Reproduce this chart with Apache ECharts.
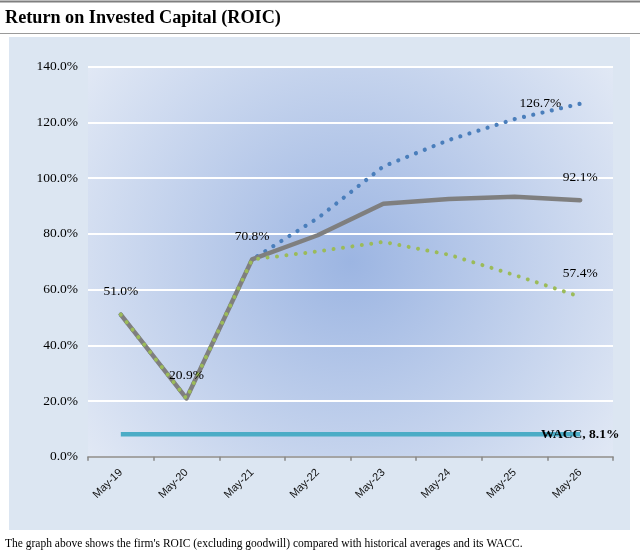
<!DOCTYPE html>
<html>
<head>
<meta charset="utf-8">
<script src="https://cdn.jsdelivr.net/npm/echarts@6/dist/echarts.min.js"></script>
<style>
html,body{margin:0;padding:0;background:#fff;}
#c{width:640px;height:554px;}
</style>
</head>
<body>
<div id="c"></div>
<script>
var categories = ['May-19','May-20','May-21','May-22','May-23','May-24','May-25','May-26'];
var roic = [51.0, 20.9, 70.8, 79.5, 90.8, 92.5, 93.3, 92.1];
var roicHighAvg = [51.0, 20.9, 70.8, 85.6, 104.2, 113.7, 121.2, 126.7];
var roicLowAvg = [51.0, 20.9, 70.8, 73.7, 77.1, 72.5, 65.2, 57.4];
var wacc = [8.1, 8.1, 8.1, 8.1, 8.1, 8.1, 8.1, 8.1];
var yTicks = [0, 20, 40, 60, 80, 100, 120, 140];
var titleText = 'Return on Invested Capital (ROIC)';
var captionText = "The graph above shows the firm's ROIC (excluding goodwill) compared with historical averages and its WACC.";

var serif = '"Liberation Serif", "Times New Roman", serif';
var labelStyle = {fontFamily: serif, fontSize: 13.5, color: '#000'};

function withLabels(values, idxs, labelCfg) {
  return values.map(function (v, i) {
    if (idxs.indexOf(i) >= 0) {
      return {value: v, label: Object.assign({show: true, formatter: function (p) { return p.value.toFixed(1) + '%'; }}, labelStyle, labelCfg)};
    }
    return v;
  });
}

var last = categories.length - 1;
var chart = echarts.init(document.getElementById('c'), null, {renderer: 'canvas'});
chart.setOption({
  animation: false,
  backgroundColor: '#ffffff',
  title: {
    text: titleText, left: 5, top: 9, padding: 0,
    textStyle: {fontFamily: serif, fontWeight: 'bold', fontSize: 18.2, color: '#000'}
  },
  graphic: [
    {type: 'rect', z: -10, shape: {x: 9, y: 37, width: 621, height: 493}, style: {fill: '#dce6f2'}},
    {type: 'line', z: 1, shape: {x1: 0, y1: 1.5, x2: 640, y2: 1.5}, style: {stroke: '#7f7f7f', lineWidth: 2}},
    {type: 'line', z: 1, shape: {x1: 0, y1: 33.5, x2: 640, y2: 33.5}, style: {stroke: '#9a9a9a', lineWidth: 1}},
    {type: 'text', z: 1, left: 5, top: 538, style: {text: captionText, font: '11.5px ' + serif, fill: '#000'}}
  ],
  grid: {
    left: 88, right: 27, top: 66.7, bottom: 97.3,
    show: true, borderWidth: 0,
    backgroundColor: {
      type: 'radial', x: 0.5, y: 0.5, r: 0.85,
      colorStops: [{offset: 0, color: '#9cb5e2'}, {offset: 1, color: '#e2e9f5'}]
    }
  },
  xAxis: {
    type: 'category', data: categories, boundaryGap: true,
    axisLine: {lineStyle: {color: '#868686', width: 1.5}},
    axisTick: {show: true, length: 4, lineStyle: {color: '#868686', width: 1.5}},
    axisLabel: {rotate: 45, margin: 14, fontFamily: '"Liberation Sans", Arial, sans-serif', fontSize: 11, color: '#111', interval: 0}
  },
  yAxis: {
    type: 'value', min: yTicks[0], max: yTicks[yTicks.length - 1], interval: 20,
    axisLine: {show: false}, axisTick: {show: false},
    splitLine: {lineStyle: {color: '#ffffff', width: 2}},
    axisLabel: {margin: 10, fontFamily: serif, fontSize: 13.5, color: '#000',
      formatter: function (v) { return v.toFixed(1) + '%'; }}
  },
  series: [
    {
      name: 'High', type: 'line', data: withLabels(roicHighAvg, [last], {position: 'left', distance: 19}),
      showSymbol: true, symbol: 'circle', symbolSize: 0, itemStyle: {color: 'rgba(0,0,0,0)'},
      lineStyle: {color: '#4a7ebb', width: 4.2, type: [0.01, 9.5], cap: 'round'}
    },
    {
      name: 'ROIC', type: 'line', data: withLabels(roic, [0, 1, 2, last], {position: 'top', distance: 16}),
      showSymbol: true, symbol: 'circle', symbolSize: 0, itemStyle: {color: 'rgba(0,0,0,0)'},
      lineStyle: {color: '#7f7f7f', width: 4.5, cap: 'round', join: 'round'}
    },
    {
      name: 'Low', type: 'line', data: withLabels(roicLowAvg, [last], {position: 'top', distance: 16}),
      showSymbol: true, symbol: 'circle', symbolSize: 0, itemStyle: {color: 'rgba(0,0,0,0)'},
      lineStyle: {color: '#9bbb59', width: 4.0, type: [0.01, 9.5], cap: 'round'}
    },
    {
      name: 'WACC', type: 'line',
      data: wacc.map(function (v, i) {
        if (i === last) {
          return {value: v, label: {show: true, position: 'inside', fontFamily: serif, fontSize: 13.5, fontWeight: 'bold', color: '#000',
            formatter: function (p) { return 'WACC, ' + p.value.toFixed(1) + '%'; }}};
        }
        return v;
      }),
      showSymbol: true, symbol: 'circle', symbolSize: 0, itemStyle: {color: 'rgba(0,0,0,0)'},
      lineStyle: {color: '#4bacc6', width: 4.5}
    }
  ]
});
</script>
</body>
</html>
